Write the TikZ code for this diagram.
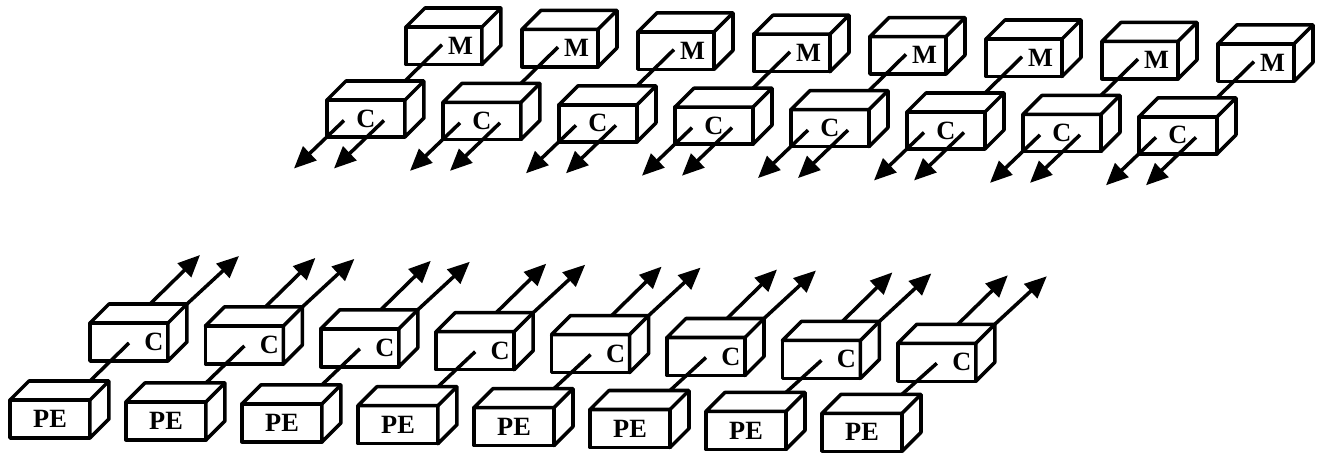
\documentclass[tikz,border=0pt]{standalone}
\usepackage{fontspec}
\setmainfont{Liberation Serif}
\usetikzlibrary{calc}
\usetikzlibrary{arrows.meta}
\tikzset{
  boxline/.style={line width=2pt, line join=round},
  wire/.style={line width=2pt},
  arr/.style={line width=2pt, -{Triangle[length=0.44cm,width=0.38cm]}},
  face/.style={boxline, draw, fill=white, outer sep=0pt, inner ysep=0pt,
    font=\bfseries\fontsize{15}{15}\selectfont},
  mbox/.style={face, minimum width=1.52cm, minimum height=0.75cm,
    inner xsep=0.18cm, text width=1.16cm, align=right},
  cubox/.style={face, minimum width=1.56cm, minimum height=0.74cm, inner xsep=0pt},
  clbox/.style={face, minimum width=1.56cm, minimum height=0.76cm,
    inner xsep=0.09cm, text width=1.38cm, align=right},
  pebox/.style={face, minimum width=1.6cm, minimum height=0.76cm, inner xsep=0pt},
}
% top and right faces of a box whose front is node #1
\newcommand{\Faces}[1]{%
  \draw[boxline, fill=white] (#1.north west) -- ++(19,-19)
    -- ($(#1.north east)+(19,-19)$) -- ($(#1.south east)+(19,-19)$)
    -- (#1.south east) -- (#1.north east) -- cycle;
  \draw[boxline] (#1.north east) -- ++(19,-19);}

\begin{document}
\begin{tikzpicture}[x=0.02cm, y=-0.02cm]
\useasboundingbox (0,0) rectangle (1321,456);

%%%%%%%%%%%%%%%%%%%%%%%%%%%%%%%%%%%%%%%%%%%%%%%%%%%%%%%%%%%%%% upper half
\foreach \i in {0,...,7}{
  \coordinate (A) at (406+116*\i, 27+2.4*\i);
  \node[mbox, anchor=north west] (M\i) at (A) {M};
  \Faces{M\i}
  \coordinate (B) at (327+116*\i, 100+2.4*\i);
  \coordinate (mc\i) at ($(B)+(78,-19)$);
  \draw[wire] ($(M\i.center)+(-2,-1)$) -- (mc\i);
  \node[cubox, anchor=north west] (CU\i) at (B) {C};
  \Faces{CU\i}
  \coordinate (ua\i) at ($(CU\i.center)+(-22,2)$);
  \coordinate (ub\i) at ($(CU\i.center)+(18,2)$);
  \coordinate (uA\i) at ($(ua\i)+(-50,48)$);
  \coordinate (uB\i) at ($(ub\i)+(-50,48)$);
  \draw[arr] (ua\i) -- (uA\i);
  \draw[arr] (ub\i) -- (uB\i);
}

%%%%%%%%%%%%%%%%%%%%%%%%%%%%%%%%%%%%%%%%%%%%%%%%%%%%%%%%%%%%%% lower half
\foreach \i in {0,...,7}{
  \coordinate (A) at (90+115.4*\i, 323+2.9*\i);
  \node[clbox, anchor=north west] (CL\i) at (A) {C};
  \Faces{CL\i}
  \coordinate (la\i) at ($(CL\i.north west)+(60,-19)$);
  \coordinate (lb\i) at ($(CL\i.north east)+(19,-19)$);
  \coordinate (lA\i) at ($(la\i)+(50,-49)$);
  \coordinate (lB\i) at ($(lb\i)+(52,-48)$);
  \draw[arr] (la\i) -- (lA\i);
  \draw[arr] (lb\i) -- (lB\i);
  \coordinate (B) at (10+116*\i, 400+1.9*\i);
  \coordinate (pc\i) at ($(B)+(80,-19)$);
  \draw[wire] ($(CL\i.center)+(0,1)$) -- (pc\i);
  \node[pebox, anchor=north west] (PE\i) at (B) {PE};
  \Faces{PE\i}
}

\end{tikzpicture}
\end{document}
